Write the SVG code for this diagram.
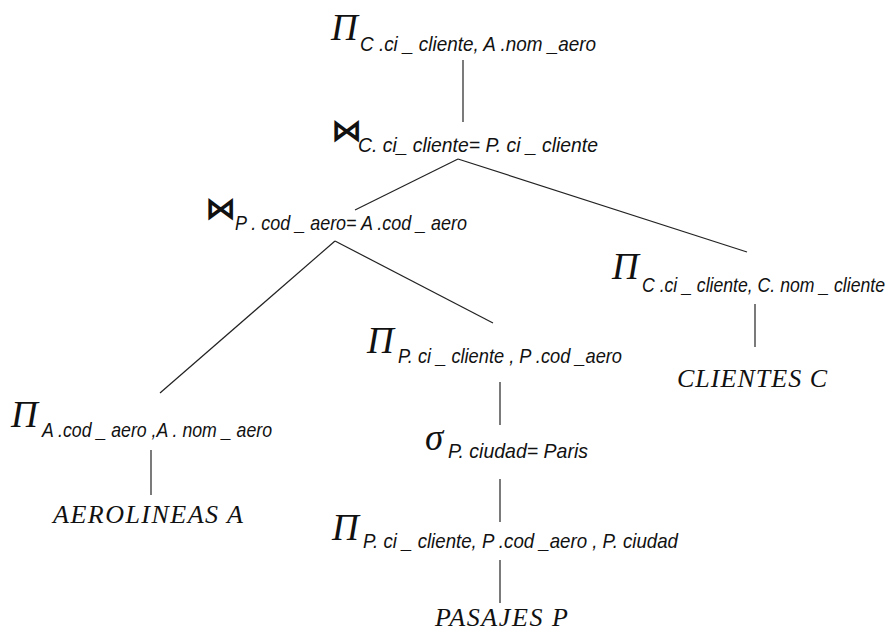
<svg xmlns="http://www.w3.org/2000/svg" width="895" height="632" viewBox="0 0 895 632">
<style>
.op{font-family:"Liberation Serif",serif;font-style:italic;font-size:37px;fill:#111}
.sub{font-family:"Liberation Sans",sans-serif;font-style:italic;font-size:21px;fill:#111}
.rel{font-family:"Liberation Serif",serif;font-style:italic;font-size:26px;fill:#111}
.join{font-family:"DejaVu Sans",sans-serif;font-weight:bold;font-size:31px;fill:#111}
.edge{stroke:#222;stroke-width:1.2;fill:none}
</style>
<rect width="895" height="632" fill="#fff"/>
<g id="connectors">
<line class="edge" x1="463" y1="60" x2="463" y2="122"/>
<line class="edge" x1="458" y1="159" x2="355" y2="210"/>
<line class="edge" x1="458" y1="159" x2="747" y2="252"/>
<line class="edge" x1="335" y1="241" x2="160" y2="393"/>
<line class="edge" x1="335" y1="241" x2="493" y2="323"/>
<line class="edge" x1="755" y1="304" x2="755" y2="347"/>
<line class="edge" x1="151" y1="450" x2="151" y2="495"/>
<line class="edge" x1="500" y1="382" x2="500" y2="425"/>
<line class="edge" x1="500" y1="479" x2="500" y2="522"/>
<line class="edge" x1="500" y1="560" x2="500" y2="603"/>
</g>
<g id="n_root">
<text class="op" x="331" y="40">Π</text>
<text class="sub" x="360" y="51" textLength="236" lengthAdjust="spacingAndGlyphs">C .ci _ cliente, A .nom _aero</text>
</g>
<g id="n_join1">
<text class="join" x="331" y="141">⋈</text>
<text class="sub" x="358" y="152" textLength="240" lengthAdjust="spacingAndGlyphs">C. ci_ cliente= P. ci _ cliente</text>
</g>
<g id="n_join2">
<text class="join" x="205" y="219">⋈</text>
<text class="sub" x="235" y="230" textLength="232" lengthAdjust="spacingAndGlyphs">P . cod _ aero= A .cod _ aero</text>
</g>
<g id="n_projC">
<text class="op" x="612" y="279">Π</text>
<text class="sub" x="642" y="292" textLength="243" lengthAdjust="spacingAndGlyphs">C .ci _ cliente, C. nom _ cliente</text>
</g>
<g id="n_clientes">
<text class="rel" x="677" y="387" textLength="150" lengthAdjust="spacing">CLIENTES  C</text>
</g>
<g id="n_projA">
<text class="op" x="11" y="427">Π</text>
<text class="sub" x="42" y="437" textLength="230" lengthAdjust="spacingAndGlyphs">A .cod _ aero ,A . nom _ aero</text>
</g>
<g id="n_aerolineas">
<text class="rel" x="53" y="523" textLength="190" lengthAdjust="spacing">AEROLINEAS  A</text>
</g>
<g id="n_projP1">
<text class="op" x="367" y="353">Π</text>
<text class="sub" x="398" y="363" textLength="224" lengthAdjust="spacingAndGlyphs">P. ci _ cliente , P .cod _aero</text>
</g>
<g id="n_sigma">
<text class="op" x="425" y="450">σ</text>
<text class="sub" x="448" y="458" textLength="140" lengthAdjust="spacingAndGlyphs">P. ciudad= Paris</text>
</g>
<g id="n_projP2">
<text class="op" x="332" y="540">Π</text>
<text class="sub" x="363" y="548" textLength="315" lengthAdjust="spacingAndGlyphs">P. ci _ cliente, P .cod _aero , P. ciudad</text>
</g>
<g id="n_pasajes">
<text class="rel" x="435" y="626" textLength="133" lengthAdjust="spacing">PASAJES  P</text>
</g>
</svg>
